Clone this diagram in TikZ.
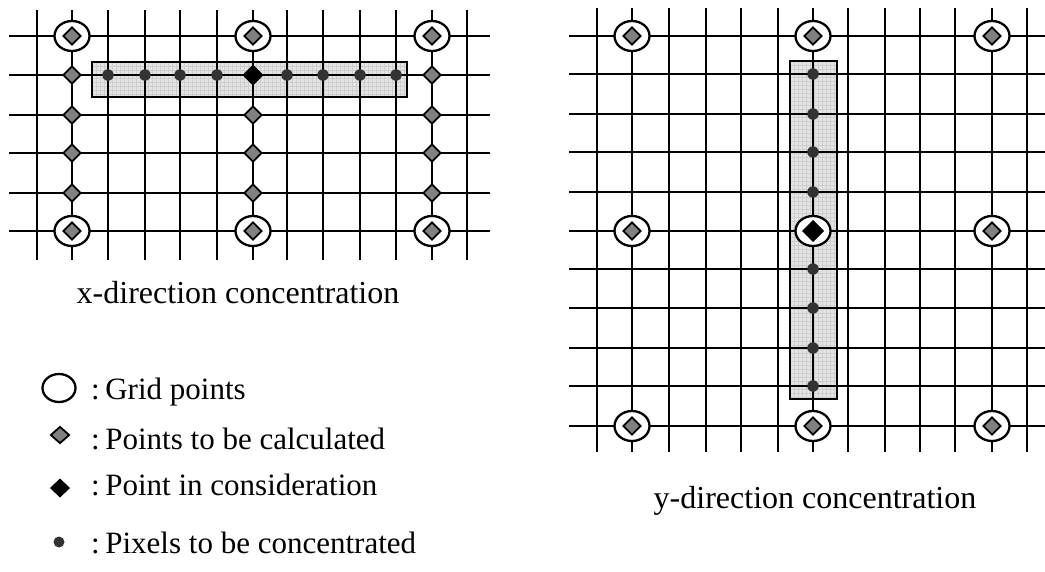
\documentclass[tikz,border=0pt]{standalone}
\usepackage{fontspec}
\setmainfont{Liberation Serif}
\usetikzlibrary{shapes.geometric}
\definecolor{calcgray}{RGB}{128,128,128}
\definecolor{pixgray}{RGB}{51,51,51}
\definecolor{bandfill}{RGB}{228,228,228}
\definecolor{bandline}{RGB}{205,205,205}
\begin{document}
\begin{tikzpicture}[x=1pt,y=-1pt,
  gline/.style={line width=2.3pt,black},
  gpt/.style={ellipse,draw,line width=2.3pt,fill=white,minimum width=35pt,minimum height=30pt,inner sep=0pt},
  calc/.style={diamond,draw,line width=1.8pt,fill=calcgray,minimum width=18pt,minimum height=18pt,inner sep=0pt},
  cons/.style={diamond,draw,line width=1pt,fill=black,minimum width=20pt,minimum height=20pt,inner sep=0pt},
  pix/.style={circle,fill=pixgray,minimum size=11.5pt,inner sep=0pt},
  bandfill/.style={fill=bandfill},
  bandgrid/.style={draw=bandline,line width=0.4pt},
  bandborder/.style={draw=black,line width=1.8pt},
  txt/.style={font=\fontsize{32}{37}\selectfont,inner sep=0pt},
  legtxt/.style={font=\fontsize{31}{36}\selectfont,inner sep=0pt,anchor=base west}]
\useasboundingbox (0,0) rectangle (1045,571);

% ---------- left panel ----------
\fill[bandfill] (92,62) rectangle (407,97);
\begin{scope}
  \clip (92,62) rectangle (407,97);
  \foreach \x in {96,100,...,406} \draw[bandgrid] (\x,62) -- (\x,97);
  \foreach \y in {66,70,...,96} \draw[bandgrid] (92,\y) -- (407,\y);
\end{scope}
\foreach \x in {37,72,108,145,180,217,253,287,323,360,396,432,467}
  \draw[gline] (\x,10) -- (\x,260);
\foreach \y in {36,75,115,153,193,231}
  \draw[gline] (9,\y) -- (490,\y);
\draw[bandborder] (92,62) rectangle (407,97);

\foreach \x/\n in {72/a,253/b,432/c}{
  \node[gpt] (L\n top) at (\x,36) {};
  \node[gpt] (L\n bot) at (\x,231) {};
  \node[calc] at (\x,36) {};
  \node[calc] at (\x,231) {};
}
\foreach \x/\n in {72/a,432/c}
  \foreach \y in {75,115,153,193}
    \node[calc] (L\n\y) at (\x,\y) {};
\foreach \y in {115,153,193}
  \node[calc] (Lb\y) at (253,\y) {};
\node[cons] (Lcons) at (253,75) {};
\foreach \x in {108,145,180,217,287,323,360,396}
  \node[pix] (Lpix\x) at (\x,75) {};

\node[txt,anchor=base] (xcap) at (238,303) {x-direction concentration};

% ---------- legend ----------
\node[gpt,minimum width=33pt,minimum height=28pt] (lg1) at (59,388) {};
\node[calc,minimum width=19pt,minimum height=17pt] (lg2) at (60,435) {};
\node[cons,minimum width=19pt,minimum height=18pt] (lg3) at (60,488) {};
\node[pix,minimum size=11pt] (lg4) at (59,542) {};
\node[legtxt] (lt1) at (91,399) {:\kern0.18em Grid points};
\node[legtxt] (lt2) at (91,449) {:\kern0.18em Points to be calculated};
\node[legtxt] (lt3) at (91,495) {:\kern0.18em Point in consideration};
\node[legtxt] (lt4) at (91,553) {:\kern0.18em Pixels to be concentrated};

% ---------- right panel ----------
\fill[bandfill] (790,61) rectangle (837,399);
\begin{scope}
  \clip (790,61) rectangle (837,399);
  \foreach \x in {794,798,...,836} \draw[bandgrid] (\x,61) -- (\x,399);
  \foreach \y in {65,69,...,398} \draw[bandgrid] (790,\y) -- (837,\y);
\end{scope}
\foreach \x in {597,632,669,706,741,778,813,848,885,920,955,992,1027}
  \draw[gline] (\x,8) -- (\x,452);
\foreach \y in {36,74,114,152,192,231,269,308,348,386,426}
  \draw[gline] (569,\y) -- (1045,\y);
\draw[bandborder] (790,61) rectangle (837,399);

\foreach \x/\n in {632/a,813/b,992/c}
  \foreach \y/\m in {36/t,231/m,426/b}
    \node[gpt] (R\n\m) at (\x,\y) {};
\foreach \x/\y in {632/36,813/36,992/36,632/231,992/231,632/426,813/426,992/426}
  \node[calc] at (\x,\y) {};
\node[cons,minimum width=21pt,minimum height=21pt] (Rcons) at (813,231) {};
\foreach \y in {74,114,152,192,269,308,348,386}
  \node[pix] (Rpix\y) at (813,\y) {};

\node[txt,anchor=base] (ycap) at (815,508) {y-direction concentration};
\end{tikzpicture}
\end{document}
